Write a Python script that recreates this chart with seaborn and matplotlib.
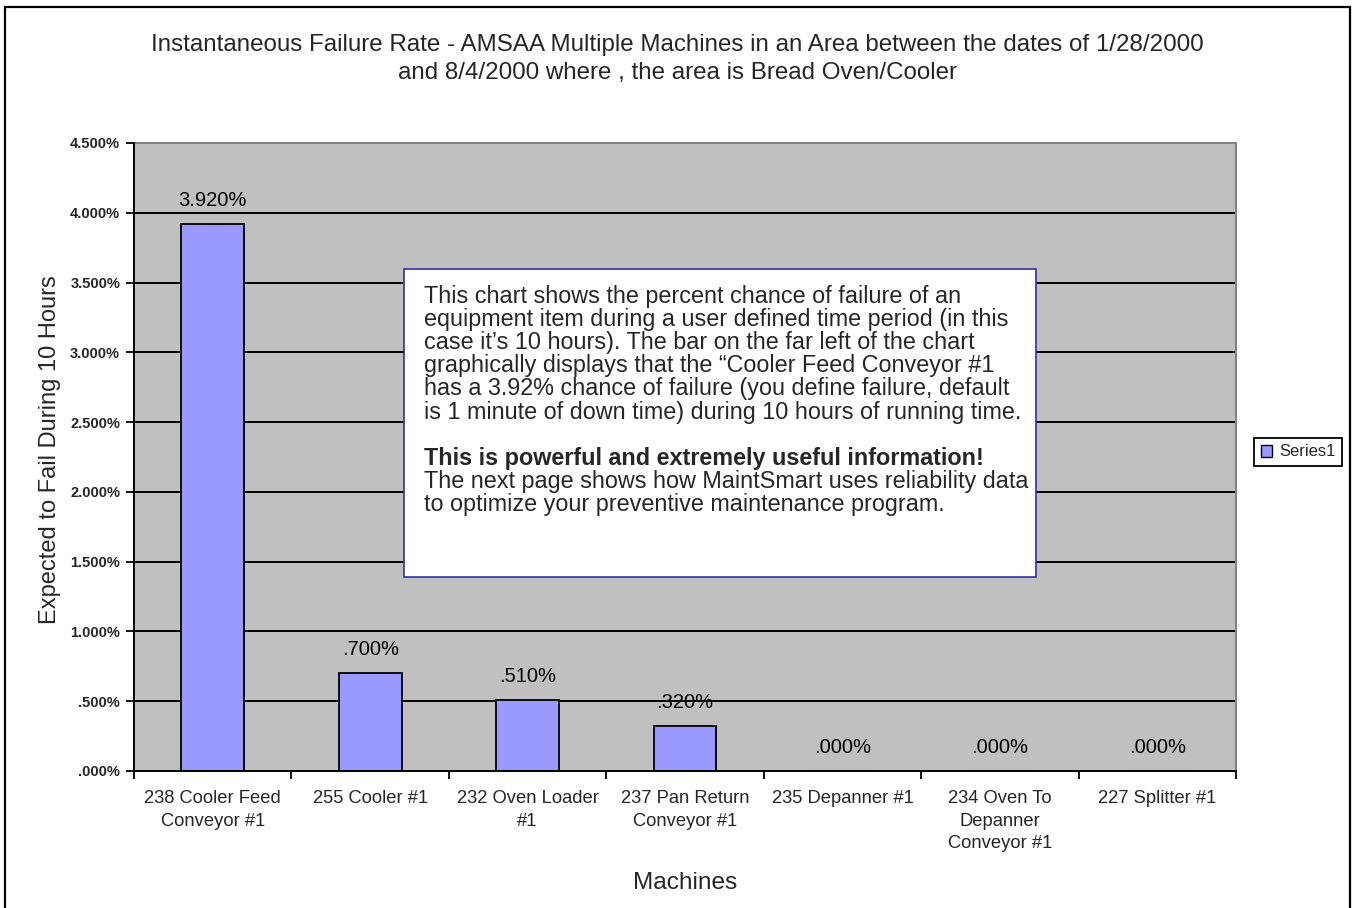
import matplotlib
matplotlib.use("Agg")
import matplotlib.pyplot as plt
import seaborn as sns
import pandas as pd
from matplotlib.patches import Rectangle, Patch

# ---------------- data ----------------
machines = [
    "238 Cooler Feed\nConveyor #1",
    "255 Cooler #1",
    "232 Oven Loader\n#1",
    "237 Pan Return\nConveyor #1",
    "235 Depanner #1",
    "234 Oven To\nDepanner\nConveyor #1",
    "227 Splitter #1",
]
values = [3.920, 0.700, 0.510, 0.320, 0.000, 0.000, 0.000]
bar_labels = ["3.920%", ".700%", ".510%", ".320%", ".000%", ".000%", ".000%"]
yticks = [0.0, 0.5, 1.0, 1.5, 2.0, 2.5, 3.0, 3.5, 4.0, 4.5]
ytick_labels = [".000%", ".500%", "1.000%", "1.500%", "2.000%", "2.500%",
                "3.000%", "3.500%", "4.000%", "4.500%"]
series_name = "Series1"
title_lines = [
    "Instantaneous Failure Rate - AMSAA Multiple Machines in an Area between the dates of 1/28/2000",
    "and 8/4/2000 where , the area is Bread Oven/Cooler",
]
x_label = "Machines"
y_label = "Expected to Fail During 10 Hours"
note_lines = [
    ("This chart shows the percent chance of failure of an", "normal"),
    ("equipment item during a user defined time period (in this", "normal"),
    ("case it\u2019s 10 hours). The bar on the far left of the chart", "normal"),
    ("graphically displays that the \u201cCooler Feed Conveyor #1", "normal"),
    ("has a 3.92% chance of failure (you define failure, default", "normal"),
    ("is 1 minute of down time) during 10 hours of running time.", "normal"),
    ("", "normal"),
    ("This is powerful and extremely useful information!", "bold"),
    ("The next page shows how MaintSmart uses reliability data", "normal"),
    ("to optimize your preventive maintenance program.", "normal"),
]

df = pd.DataFrame({"machine": machines, "value": values})

# ---------------- style ----------------
sns.set_style("white")
plt.rcParams["font.family"] = ["Liberation Sans", "DejaVu Sans"]

W, H = 1354, 908
fig = plt.figure(figsize=(W / 100, H / 100), dpi=100)
fig.patch.set_facecolor("white")


def fx(px):
    return px / W


def fy(py):
    return 1 - py / H


ax = fig.add_axes([fx(134), fy(771), fx(1236) - fx(134), fy(143) - fy(771)])
ax.set_facecolor("#C0C0C0")

sns.barplot(data=df, x="machine", y="value", color="#9999FF", saturation=1,
            width=0.40, edgecolor="black", linewidth=1.3, ax=ax, zorder=3)

ax.set_xlim(-0.5, len(machines) - 0.5)
ax.set_ylim(yticks[0], yticks[-1])
ax.set_yticks(yticks)
ax.set_yticklabels(ytick_labels, fontsize=10.5, fontweight="bold")
for yv in yticks[1:-1]:
    ax.axhline(yv, color="black", linewidth=1.4, zorder=1)

# x ticks: labels at categories, tick marks at boundaries
ax.set_xticks(range(len(machines)))
ax.set_xticklabels(machines, fontsize=13.2, linespacing=1.42)
ax.set_xticks([i - 0.5 for i in range(len(machines) + 1)], minor=True)
ax.tick_params(axis="x", which="major", length=0, pad=14)
ax.tick_params(axis="x", which="minor", length=6, width=1.3, direction="out",
               color="black", bottom=True)
ax.tick_params(axis="y", length=6, width=1.3, direction="out", color="black",
               pad=4, left=True)
ax.set_xlabel("")
ax.set_ylabel("")

for side in ["left", "bottom"]:
    ax.spines[side].set_color("black")
    ax.spines[side].set_linewidth(1.4)
    ax.spines[side].set_zorder(4)
for side in ["top", "right"]:
    ax.spines[side].set_color("#808080")
    ax.spines[side].set_linewidth(1.4)

ax.bar_label(ax.containers[0], labels=bar_labels, padding=10, fontsize=14.5,
             color="black")

# titles and axis labels
fig.text(0.5, fy(45), title_lines[0], ha="center", va="center", fontsize=17.4)
fig.text(0.5, fy(73), title_lines[1], ha="center", va="center", fontsize=17.4)
fig.text(fx(50), fy(450), y_label, rotation=90, ha="center", va="center",
         fontsize=17)
fig.text(fx(685), fy(883), x_label, ha="center", va="center", fontsize=17.6)

# legend
leg = fig.legend(handles=[Patch(facecolor="#9999FF", edgecolor="black",
                                linewidth=1.0, label=series_name)],
                 loc="center", bbox_to_anchor=(fx(1298), fy(452)),
                 frameon=True, fancybox=False, edgecolor="black", framealpha=1,
                 fontsize=12, handlelength=0.7, handleheight=0.7,
                 handletextpad=0.4, borderpad=0.4)
leg.get_frame().set_linewidth(1.3)

# annotation box
fig.patches.append(Rectangle((fx(404), fy(577)), fx(1036) - fx(404),
                             fy(269) - fy(577), transform=fig.transFigure,
                             facecolor="white", edgecolor="#3030A0",
                             linewidth=1.2, zorder=10))
for i, (line, weight) in enumerate(note_lines):
    if line:
        fig.text(fx(424), fy(303 + 23.1 * i), line, ha="left", va="baseline",
                 fontsize=16.8, fontweight=weight, zorder=11)

# outer border
fig.patches.append(Rectangle((fx(5), -0.02), fx(1350) - fx(5), fy(7) + 0.02,
                             transform=fig.transFigure, fill=False,
                             edgecolor="black", linewidth=1.6, zorder=12))

fig.savefig("out.png", dpi=100)
